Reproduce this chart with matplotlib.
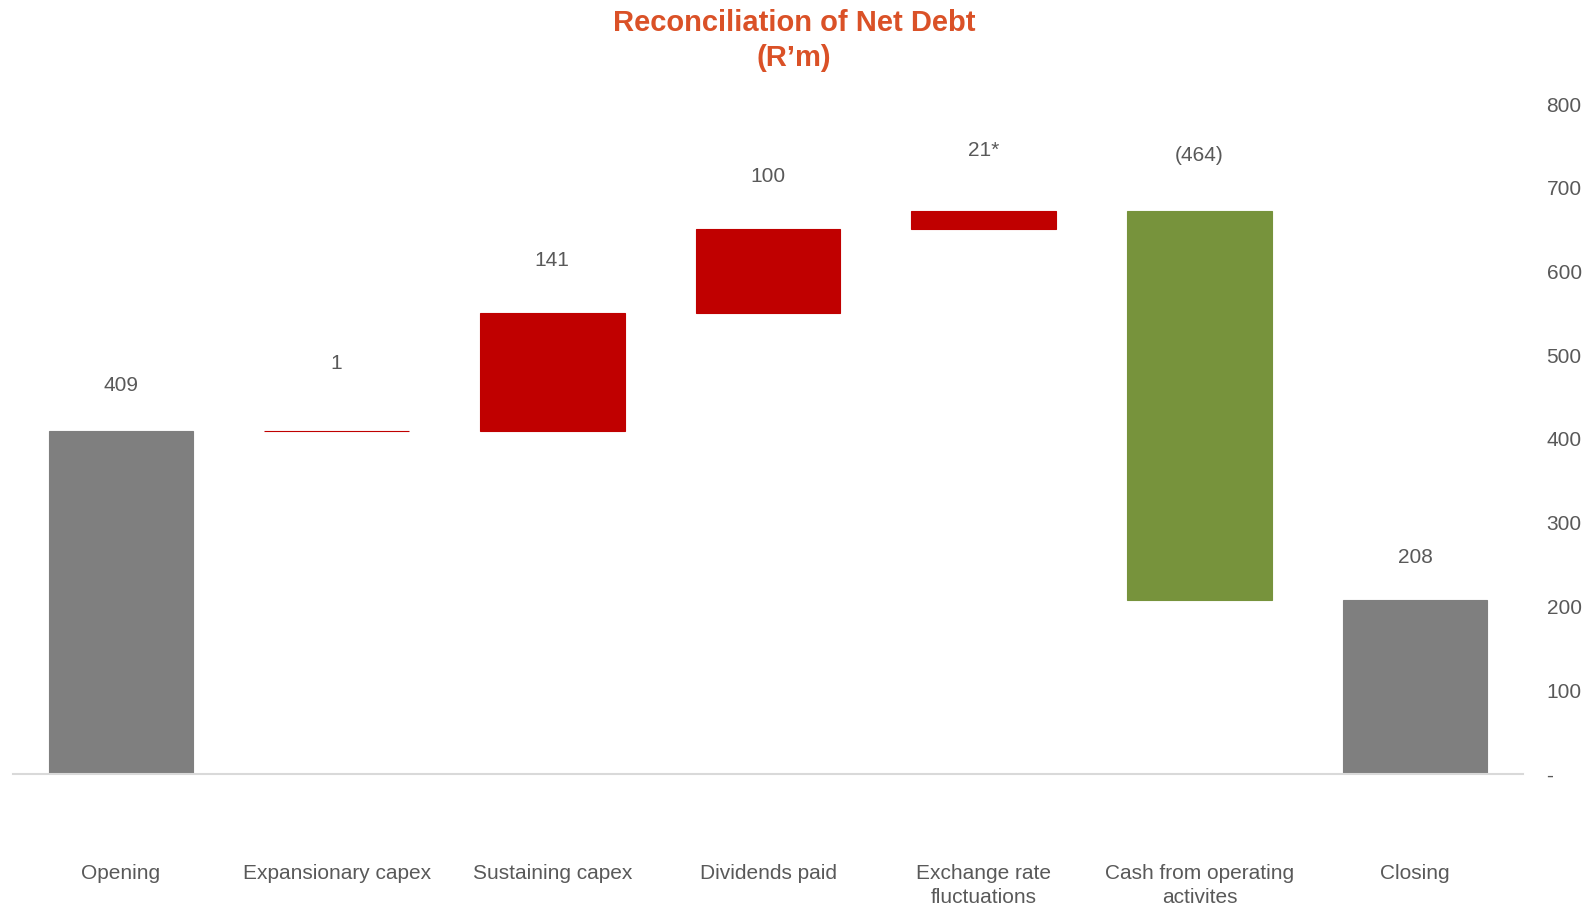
import matplotlib.pyplot as plt

# Waterfall data (R'm)
categories = ["Opening", "Expansionary capex", "Sustaining capex", "Dividends paid",
              "Exchange rate\nfluctuations", "Cash from operating\nactivites", "Closing"]
movements = [409, 1, 141, 100, 21, -464, 208]
value_labels = ["409", "1", "141", "100", "21*", "(464)", "208"]
bar_kinds = ["total", "up", "up", "up", "up", "down", "total"]
# label height above the bar top (data units) - labels were hand placed in the original
label_offsets = [55, 80, 62, 62, 72, 67, 51]

colours = {"total": "#7F7F7F", "up": "#C00000", "down": "#77933C"}
text_grey = "#595959"

plt.rcParams['font.family'] = ['Liberation Sans', 'DejaVu Sans']


def waterfall_bottoms(values, kinds):
    bottoms, heights = [], []
    running = 0
    for v, k in zip(values, kinds):
        if k == "total":
            bottoms.append(0)
            heights.append(v)
            running = v
        elif v >= 0:
            bottoms.append(running)
            heights.append(v)
            running += v
        else:
            running += v
            bottoms.append(running)
            heights.append(-v)
    return bottoms, heights


fig = plt.figure(figsize=(15.95, 9.06), dpi=100)
ax = fig.add_axes([13 / 1595, 132 / 906, 1510 / 1595, 670 / 906])

bottoms, heights = waterfall_bottoms(movements, bar_kinds)
x = range(len(categories))
bar_colours = [colours[k] for k in bar_kinds]
# edge in the same colour so the 1 R'm bar still shows as a thin line
ax.bar(x, heights, bottom=bottoms, width=0.67, color=bar_colours,
       edgecolor=bar_colours, linewidth=0.8, zorder=2)

for i in x:
    top = bottoms[i] + heights[i]
    ax.text(i, top + label_offsets[i], value_labels[i], ha='center', va='center',
            fontsize=15, color=text_grey)

ax.set_xlim(-0.5, len(categories) - 0.5)
ax.set_ylim(0, 800)

# y axis on the right, "-" for zero like the Excel accounting format
ax.yaxis.tick_right()
ax.set_yticks(range(0, 801, 100))
ax.set_yticklabels(["-"] + [str(v) for v in range(100, 801, 100)])
ax.tick_params(axis='y', length=0, pad=17, labelsize=15, labelcolor=text_grey)

ax.set_xticks(list(x))
ax.set_xticklabels(categories)
ax.tick_params(axis='x', length=0, pad=65, labelsize=15, labelcolor=text_grey)
for lbl in ax.get_xticklabels():
    lbl.set_linespacing(1.32)

for side in ['top', 'left', 'right']:
    ax.spines[side].set_visible(False)
ax.spines['bottom'].set_color('#D9D9D9')
ax.spines['bottom'].set_linewidth(1.5)

fig.text(794 / 1595, 1 - 9 / 906, "Reconciliation of Net Debt\n(R\u2019m)",
         ha='center', va='top', fontsize=21, fontweight='bold', color='#DA5127',
         linespacing=1.3)

plt.savefig("out.png", dpi=100)
